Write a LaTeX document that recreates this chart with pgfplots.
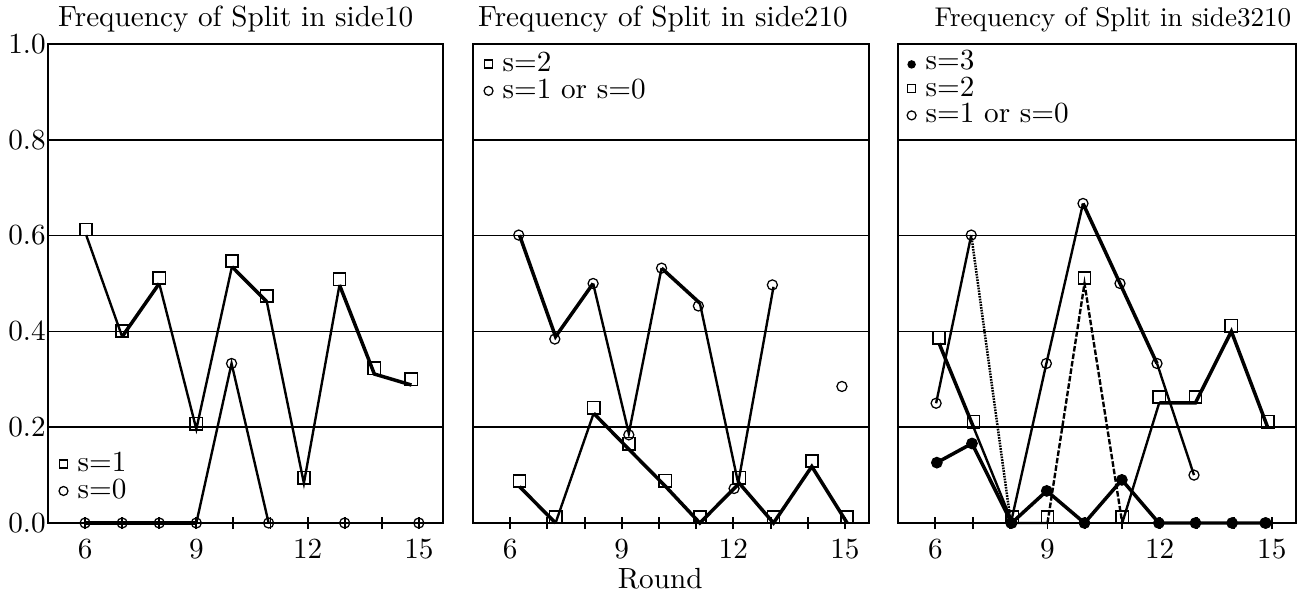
\documentclass[border=0pt]{standalone}
\usepackage{pgfplots}
\pgfplotsset{compat=1.18}
\begin{document}
\fontsize{10.45}{12.5}\selectfont
\begin{tikzpicture}
\pgfplotsset{
  every axis title/.style={at={(0.5,1)}, anchor=base, yshift=6.1pt},
  panel/.style={
    scale only axis, height=171.5pt,
    xmin=5, xmax=15.65, ymin=0, ymax=1,
    xtick={6,9,12,15}, minor xtick={7,8,10,11,13,14}, xtick pos=left,
    ytick={0,0.2,0.4,0.6,0.8,1},
    ymajorgrids, major grid style={black, line width=0.6pt},
    axis line style={line width=0.9pt},
    tick align=center, major tick length=4.3pt, minor tick length=4.3pt,
    xtick style={black, line width=0.7pt}, ytick style={draw=none},
    /pgf/number format/assume math mode=true,
    yticklabel style={xshift=5pt, /pgf/number format/.cd, fixed, fixed zerofill, precision=1},
    clip=false,
    legend cell align=left,
    legend style={draw=none, fill=none, inner sep=0pt, row sep=-0.9pt, column sep=2.2pt, nodes={inner sep=1pt}},
  },
  ln/.style={black, line width=0.85pt, no markers, forget plot},
  lt/.style={black, line width=1.25pt, no markers, forget plot},
  sq/.style={only marks, black, mark=square, mark size=2.2pt,
    mark options={line width=0.6pt, yshift=2pt},
    legend image code/.code={\draw[black, line width=0.5pt] (-1.45pt,-1.45pt) rectangle (1.45pt,1.45pt);}},
  ci/.style={only marks, black, mark=o, mark size=1.8pt,
    mark options={line width=0.45pt},
    legend image code/.code={\draw[black, line width=0.45pt] (0pt,0pt) circle (1.6pt);}},
  dt/.style={only marks, black, mark=*, mark size=1.9pt,
    legend image code/.code={\fill[black] (0pt,-1pt) circle (1.3pt);}},
}
\useasboundingbox (0,0) rectangle (465.4pt,212.65pt);

% panel 1
\begin{axis}[panel, at={(17.18pt,25.42pt)}, anchor=south west, width=141.4pt,
  title={Frequency of Split in side10}, title style={xshift=-3.5pt},
  legend style={at={(0.025,0.035)}, anchor=south west}]
\addplot[ln] coordinates {(6.03,0.601) (7,0.389)};
\addplot[lt] coordinates {(7,0.389) (8,0.500)};
\addplot[ln] coordinates {(8,0.500) (9,0.196) (9.96,0.535)};
\addplot[lt] coordinates {(9.96,0.535) (10.9,0.462)};
\addplot[ln] coordinates {(10.9,0.462) (11.9,0.083) (12.86,0.497)};
\addplot[lt] coordinates {(12.86,0.497) (13.8,0.311) (14.8,0.288)};
\addplot[lt] coordinates {(6,0) (7,0) (8,0) (9,0)};
\addplot[ln] coordinates {(9,0) (9.95,0.333) (10.95,0)};
\addplot[sq] coordinates {(6.03,0.601) (7,0.389) (8,0.500) (9,0.196) (9.96,0.535)
  (10.9,0.462) (11.9,0.083) (12.86,0.497) (13.8,0.311) (14.8,0.288)};
\addlegendentry{s=1}
\addplot[ci] coordinates {(6,0) (7,0) (8,0) (9,0) (9.95,0.333) (10.95,0) (13,0) (15,0)};
\addlegendentry{s=0}
\end{axis}

% panel 2
\begin{axis}[panel, at={(169.33pt,25.42pt)}, anchor=south west, width=141.8pt,
  yticklabels={},
  title={Frequency of Split in side210}, title style={xshift=-2.9pt},
  xlabel={Round}, xlabel style={at={(axis description cs:0.5,0)}, anchor=base, yshift=-23.3pt, xshift=-3.9pt},
  legend style={at={(0.025,0.99)}, anchor=north west}]
\addplot[lt] coordinates {(6.25,0.076) (7.22,0)};
\addplot[ln] coordinates {(7.22,0) (8.245,0.229)};
\addplot[lt] coordinates {(8.245,0.229) (9.19,0.154) (10.17,0.077) (11.1,0) (12.16,0.083)
  (13.08,0) (14.11,0.118) (15.06,0)};
\addplot[lt] coordinates {(6.25,0.601) (7.22,0.389) (8.23,0.500)};
\addplot[ln] coordinates {(8.23,0.500) (9.19,0.187) (10.07,0.532)};
\addplot[lt] coordinates {(10.07,0.532) (11.1,0.459)};
\addplot[ln] coordinates {(11.1,0.459) (12.13,0.083) (13.08,0.493)};
\addplot[sq] coordinates {(6.25,0.076) (7.22,0) (8.245,0.229) (9.19,0.154) (10.17,0.077)
  (11.1,0) (12.16,0.083) (13.08,0) (14.11,0.118) (15.06,0)};
\addlegendentry{s=2}
\addplot[ci] coordinates {(6.23,0.601) (7.2,0.384) (8.23,0.500) (9.19,0.184) (10.07,0.532)
  (11.06,0.453) (12.02,0.072) (13.05,0.497) (14.92,0.285)};
\addlegendentry{s=1 or s=0}
\end{axis}

% panel 3
\begin{axis}[panel, at={(321.48pt,25.42pt)}, anchor=south west, width=142.5pt,
  yticklabels={},
  title={Frequency of Split in side3210},
  title style={xshift=5.7pt, font=\fontsize{9.7}{11}\selectfont},
  legend style={at={(0.02,0.995)}, anchor=north west}]
\addplot[lt] coordinates {(6.04,0.126) (6.98,0.166) (8.04,0) (8.98,0.067) (9.99,0)
  (10.99,0.090) (11.98,0) (12.96,0) (13.94,0) (14.84,0)};
\addplot[lt] coordinates {(6.1,0.375) (7.02,0.200)};
\addplot[ln] coordinates {(7.02,0.200) (8.06,0) (9.0,0)};
\addplot[black, line width=0.85pt, no markers, forget plot, dash pattern=on 2pt off 0.7pt]
  coordinates {(9.0,0) (9.99,0.500) (11.0,0)};
\addplot[ln] coordinates {(11.0,0) (11.99,0.251)};
\addplot[lt] coordinates {(11.99,0.251) (12.96,0.251) (13.92,0.400) (14.89,0.200)};
\addplot[ln] coordinates {(6.02,0.25) (6.96,0.601)};
\addplot[black, line width=0.9pt, no markers, forget plot, dash pattern=on 0.6pt off 0.4pt]
  coordinates {(6.96,0.601) (8.02,0)};
\addplot[ln] coordinates {(8.02,0) (8.97,0.333) (9.95,0.667)};
\addplot[lt] coordinates {(9.95,0.667) (10.94,0.500) (11.93,0.333)};
\addplot[ln] coordinates {(11.93,0.333) (12.92,0.100)};
\addplot[dt] coordinates {(6.04,0.126) (6.98,0.166) (8.04,0) (8.98,0.067) (9.99,0)
  (10.99,0.090) (11.98,0) (12.96,0) (13.94,0) (14.84,0)};
\addlegendentry{s=3}
\addplot[sq] coordinates {(6.1,0.375) (7.02,0.200) (8.06,0) (9.0,0) (9.99,0.500)
  (11.0,0) (11.99,0.251) (12.96,0.251) (13.92,0.400) (14.89,0.200)};
\addlegendentry{s=2}
\addplot[ci] coordinates {(6.02,0.25) (6.96,0.601) (8.02,0) (8.97,0.333) (9.95,0.667)
  (10.94,0.500) (11.93,0.333) (12.92,0.100) (14.82,0)};
\addlegendentry{s=1 or s=0}
\end{axis}
\end{tikzpicture}
\end{document}
